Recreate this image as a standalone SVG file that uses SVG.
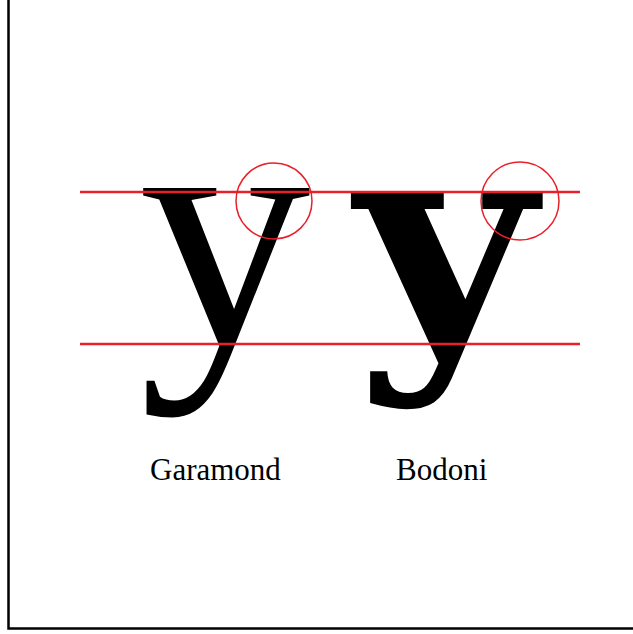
<svg xmlns="http://www.w3.org/2000/svg" width="633" height="634" viewBox="0 0 633 634">
<style>
.guide{stroke:#e8202a;stroke-width:2.5;fill:none}
.ring{stroke:#e8202a;stroke-width:1.5;fill:none}
.lbl{font-family:"Liberation Serif",serif;font-size:31px;fill:#000}
</style>
<rect width="633" height="634" fill="#fff"/>
<rect x="8.5" y="-10" width="700" height="638.5" fill="none" stroke="#000" stroke-width="2.5"/>
<g id="garamond">
<text transform="translate(139,344) scale(1.01,1)" x="0" y="0" font-family="Liberation Serif, serif" font-size="340">y</text>
<text class="lbl" x="150" y="480">Garamond</text>
</g>
<g id="bodoni">
<text transform="translate(355,344) scale(1.1,1.04)" x="0" y="0" font-family="DejaVu Serif, serif" font-weight="bold" font-size="282">y</text>
<text class="lbl" x="396" y="480">Bodoni</text>
</g>
<g id="guides">
<line class="guide" x1="80" y1="192" x2="580" y2="192"/>
<line class="guide" x1="80" y1="344" x2="580" y2="344"/>
<circle class="ring" cx="274" cy="201" r="38"/>
<circle class="ring" cx="520" cy="201" r="39"/>
</g>
</svg>
